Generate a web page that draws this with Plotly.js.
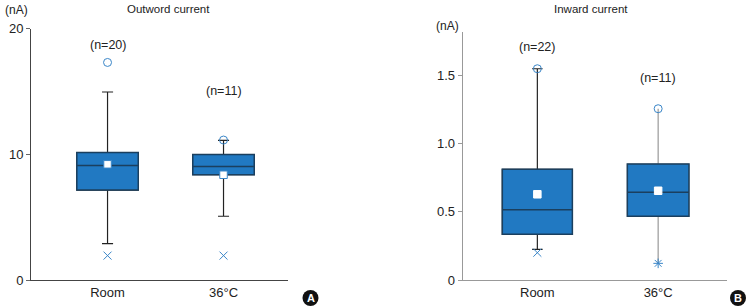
<!DOCTYPE html>
<html><head><meta charset="utf-8">
<script src="https://cdn.plot.ly/plotly-3.0.1.min.js"></script>
<style>html,body{margin:0;padding:0;background:#fff}#chart{width:749px;height:307px}</style>
</head><body><div id="chart"></div>
<script>
// Categories and n labels
const categories = ["Room", "36°C"];
const nLabelsA = ["(n=20)", "(n=11)"];
const nLabelsB = ["(n=22)", "(n=11)"];
const yTicksA = [0, 10, 20];
const yTickTextA = ["0", "10", "20"];
const yTicksB = [0, 0.5, 1.0, 1.5];
const yTickTextB = ["0", "0.5", "1.0", "1.5"];

// Panel A: Outward current (nA)
const a_q1 = [7.15, 8.37];
const a_median = [9.1, 9.03];
const a_q3 = [10.14, 9.98];
const a_lower = [2.9, 5.07];
const a_upper = [14.95, 11.1];
const a_mean = [9.2, 8.37];
const a_max = [17.3, 11.13];
const a_min = [1.94, 1.94];

// Panel B: Inward current (nA)
const b_q1 = [0.335, 0.467];
const b_median = [0.515, 0.643];
const b_q3 = [0.811, 0.85];
const b_lower = [0.225, 0.122];
const b_upper = [1.548, 1.255];
const b_mean = [0.628, 0.654];
const b_max = [1.548, 1.255];
const b_min = [0.2, 0.122];

const W = 749, H = 307;
const BOX = '#2179c2', NAVY = '#1b3f5e', MK = '#3a86c8';

function whisk(xa, ya, i, q1, med, q3, lo, hi, color, width, ww) {
  return {type:'box', xaxis:xa, yaxis:ya, x:[categories[i]], q1:[q1[i]], median:[med[i]], q3:[q3[i]],
    lowerfence:[lo[i]], upperfence:[hi[i]], width:width, whiskerwidth:ww,
    fillcolor:'rgba(0,0,0,0)', line:{color:color, width:1.2}, boxpoints:false, hoverinfo:'skip', showlegend:false};
}
function boxT(xa, ya, i, q1, med, q3, width) {
  return {type:'box', xaxis:xa, yaxis:ya, x:[categories[i]], q1:[q1[i]], median:[med[i]], q3:[q3[i]],
    lowerfence:[q1[i]], upperfence:[q3[i]], width:width, whiskerwidth:0,
    fillcolor:BOX, line:{color:NAVY, width:1.5}, boxpoints:false, hoverinfo:'skip', showlegend:false};
}
function pts(xa, ya, vals, symbols, size, color, lineColor) {
  return {type:'scatter', mode:'markers', xaxis:xa, yaxis:ya, x:categories, y:vals,
    marker:{symbol:symbols, size:size, color:color, line:{color:lineColor, width:1}}, hoverinfo:'skip', showlegend:false};
}

const traces = [
  whisk('x','y',0,a_q1,a_median,a_q3,a_lower,a_upper,'#222',0.53,0.18),
  whisk('x','y',1,a_q1,a_median,a_q3,a_lower,a_upper,'#222',0.53,0.18),
  boxT('x','y',0,a_q1,a_median,a_q3,0.53),
  boxT('x','y',1,a_q1,a_median,a_q3,0.53),
  pts('x','y',a_max,'circle-open',8,MK,MK),
  pts('x','y',a_min,'x-thin-open',8,MK,MK),
  pts('x','y',a_mean,'square',7.5,'#ffffff',MK),

  whisk('x2','y2',0,b_q1,b_median,b_q3,b_lower,b_upper,'#222',0.58,0.15),
  whisk('x2','y2',1,b_q1,b_median,b_q3,b_lower,b_upper,'#999',0.51,0),
  boxT('x2','y2',0,b_q1,b_median,b_q3,0.58),
  boxT('x2','y2',1,b_q1,b_median,b_q3,0.51),
  pts('x2','y2',b_max,'circle-open',8,MK,MK),
  pts('x2','y2',b_min,['x-thin-open','asterisk-open'],8,MK,MK),
  pts('x2','y2',b_mean,'square',7.5,'#ffffff','#ffffff')
];

const FONT = {family:'Liberation Sans, Arial, sans-serif', size:12, color:'#333'};
const px = v => v / W, py = v => 1 - v / H;
function note(x, y, text, size, color, xr, yr) {
  return {xref:xr || 'paper', yref:yr || 'paper', x:x, y:y, text:text, showarrow:false,
    xanchor:'center', yanchor:'middle', font:{size:size, color:color || '#222'}};
}

const layout = {
  width:W, height:H, margin:{l:0,r:0,t:0,b:0}, paper_bgcolor:'#fff', plot_bgcolor:'#fff',
  boxmode:'overlay', font:FONT, showlegend:false,
  xaxis:{domain:[px(31), px(288)], type:'category', range:[-0.66, 1.556], showgrid:false, zeroline:false,
    showline:true, linecolor:'#444', linewidth:1, ticks:'', tickfont:{size:13, color:'#222'}, fixedrange:true},
  yaxis:{domain:[py(280), py(28.5)], range:[0, 20], showgrid:false, zeroline:false, showline:true,
    linecolor:'#444', linewidth:1, ticks:'outside', ticklen:4, tickcolor:'#666', tickvals:yTicksA, ticktext:yTickTextA,
    tickfont:{size:13, color:'#222'}, fixedrange:true},
  xaxis2:{domain:[px(462.7), px(727)], type:'category', range:[-0.618, 1.57], showgrid:false, zeroline:false,
    showline:true, linecolor:'#999', linewidth:1, ticks:'', tickfont:{size:13, color:'#222'}, anchor:'y2', fixedrange:true},
  yaxis2:{domain:[py(280), py(32.3)], range:[0, 1.815], showgrid:false, zeroline:false, showline:true,
    linecolor:'#999', linewidth:1, ticks:'outside', ticklen:4, tickcolor:'#999', tickvals:yTicksB, ticktext:yTickTextB,
    tickfont:{size:13, color:'#222'}, anchor:'x2', fixedrange:true},
  shapes:[
    {type:'circle', xref:'paper', yref:'paper', x0:px(302.5), x1:px(318.5), y0:py(306), y1:py(290), fillcolor:'#111', line:{width:0}},
    {type:'circle', xref:'paper', yref:'paper', x0:px(730), x1:px(746), y0:py(306), y1:py(290), fillcolor:'#111', line:{width:0}}
  ],
  annotations:[
    note(px(168), py(9), 'Outword current', 11.5),
    note(px(591), py(9), 'Inward current', 11.5),
    note(px(16), py(10), '(nA)', 12),
    note(px(447), py(26), '(nA)', 12),
    note(categories[0], 18.7, nLabelsA[0], 12.5, '#222', 'x', 'y'),
    note(categories[1], 15.0, nLabelsA[1], 12.5, '#222', 'x', 'y'),
    note(categories[0], 1.707, nLabelsB[0], 12.5, '#222', 'x2', 'y2'),
    note(categories[1], 1.48, nLabelsB[1], 12.5, '#222', 'x2', 'y2'),
    note(px(310.5), py(298), '<b>A</b>', 11, '#fff'),
    note(px(738), py(298), '<b>B</b>', 11, '#fff')
  ]
};

Plotly.newPlot('chart', traces, layout, {displayModeBar:false, staticPlot:true});
</script></body></html>
